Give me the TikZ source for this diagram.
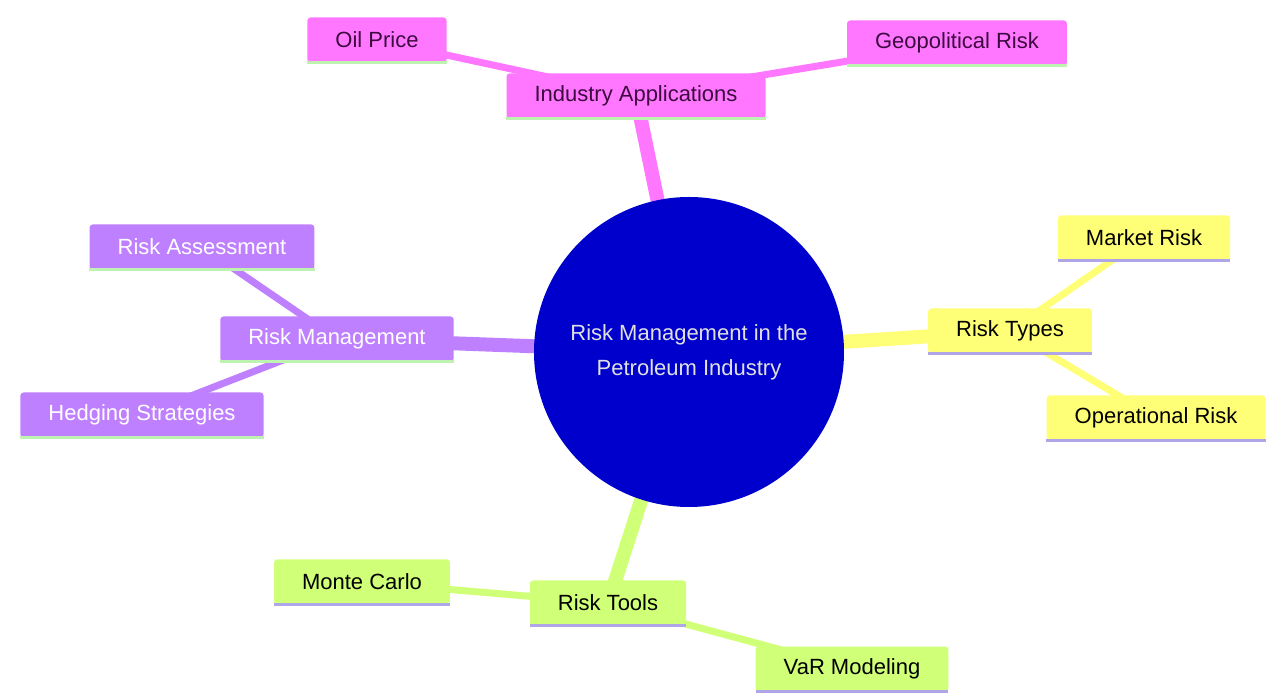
\documentclass[tikz,border=0pt]{standalone}
\usepackage{fontspec}
\setmainfont{Liberation Sans}
\usetikzlibrary{positioning,backgrounds}

\definecolor{rootblue}{HTML}{0000CC}
\definecolor{apppink}{HTML}{FF77FF}
\definecolor{mgmtpurple}{HTML}{BF80FF}
\definecolor{typeyellow}{HTML}{FFFF77}
\definecolor{toolgreen}{HTML}{D0FF78}
\definecolor{ulgreen}{HTML}{BDF2B0}
\definecolor{ullav}{HTML}{AEA6E6}
\definecolor{pinktext}{HTML}{3D0A40}

\tikzset{
  root/.style = {circle, fill=rootblue, minimum size=310pt, inner sep=0pt,
    align=center, text=white!88!black, font=\fontsize{22}{35}\selectfont},
  topic/.style = {rectangle, rounded corners=3pt, fill=#1, minimum height=45pt,
    inner xsep=28pt, inner ysep=0pt, font=\fontsize{22}{26}\selectfont},
  uline/.style = {append after command={(\tikzlastnode.south west)
    edge[draw=#1, line width=3pt] (\tikzlastnode.south east)}},
  trunk/.style = {draw=#1, line width=14pt},
  twig/.style = {draw=#1, line width=7pt},
}

\begin{document}
\begin{tikzpicture}[x=1pt, y=1pt, on grid]
  \useasboundingbox (-689,-348) rectangle (579,352);

  \node[root] (root) at (0,0) {Risk Management in the\\Petroleum Industry};

  \node[topic=apppink, text=pinktext, uline=ulgreen, above left=256pt and 53pt of root] (indapp) {Industry Applications};
  \node[topic=apppink, text=pinktext, uline=ulgreen, above left=56pt and 259pt of indapp] (oilprice) {Oil Price};
  \node[topic=apppink, text=pinktext, uline=ulgreen, above right=53pt and 321pt of indapp] (geopol) {Geopolitical Risk};

  \node[topic=mgmtpurple, text=white, uline=ulgreen, above left=13pt and 352pt of root] (riskmgmt) {Risk Management};
  \node[topic=mgmtpurple, text=white, uline=ulgreen, above left=92pt and 135pt of riskmgmt] (assess) {Risk Assessment};
  \node[topic=mgmtpurple, text=white, uline=ulgreen, below left=76pt and 195pt of riskmgmt] (hedging) {Hedging Strategies};

  \node[topic=typeyellow, uline=ullav, above right=21pt and 321pt of root] (risktypes) {Risk Types};
  \node[topic=typeyellow, uline=ullav, above right=93pt and 134pt of risktypes] (market) {Market Risk};
  \node[topic=typeyellow, uline=ullav, below right=87pt and 146pt of risktypes] (operational) {Operational Risk};

  \node[topic=toolgreen, uline=ullav, below left=251pt and 81pt of root] (risktools) {Risk Tools};
  \node[topic=toolgreen, uline=ullav, above left=21pt and 246pt of risktools] (montecarlo) {Monte Carlo};
  \node[topic=toolgreen, uline=ullav, below right=66pt and 244pt of risktools] (varmodel) {VaR Modeling};

  \begin{pgfonlayer}{background}
    \draw[trunk=apppink] (root.center) -- (indapp.center);
    \draw[twig=apppink] (indapp.center) -- (oilprice.center);
    \draw[twig=apppink] (indapp.center) -- (geopol.center);

    \draw[trunk=mgmtpurple] (root.center) -- (riskmgmt.center);
    \draw[twig=mgmtpurple] (riskmgmt.center) -- (assess.center);
    \draw[twig=mgmtpurple] (riskmgmt.center) -- (hedging.center);

    \draw[trunk=typeyellow] (root.center) -- (risktypes.center);
    \draw[twig=typeyellow] (risktypes.center) -- (market.center);
    \draw[twig=typeyellow] (risktypes.center) -- (operational.center);

    \draw[trunk=toolgreen] (root.center) -- (risktools.center);
    \draw[twig=toolgreen] (risktools.center) -- (montecarlo.center);
    \draw[twig=toolgreen] (risktools.center) -- (varmodel.center);
  \end{pgfonlayer}
\end{tikzpicture}
\end{document}
